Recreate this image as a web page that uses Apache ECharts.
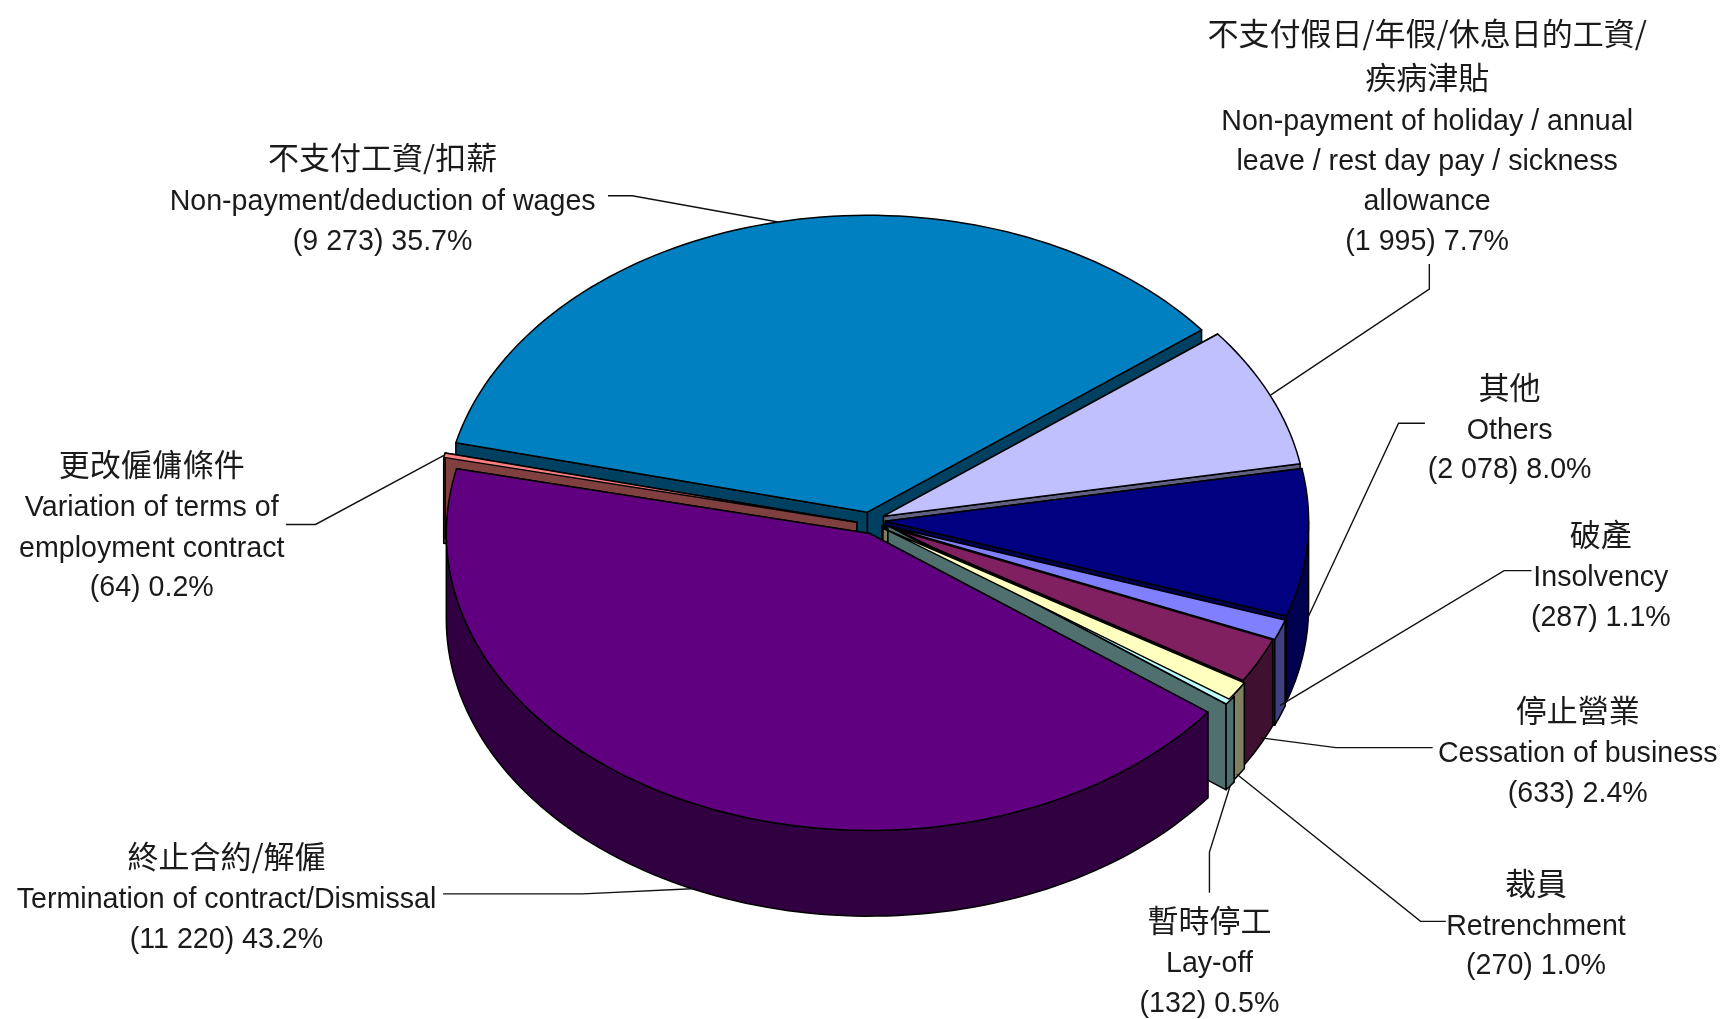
<!DOCTYPE html>
<html><head><meta charset="utf-8">
<style>html,body{margin:0;padding:0;background:#fff}#c{width:1724px;height:1019px}</style>
<script src="https://cdn.jsdelivr.net/npm/echarts@6/dist/echarts.min.js"></script>
</head><body><div id="c"></div>
<script>
// ---- data, in clockwise order from the left of the pie ----
const namesZh = ['不支付工資/扣薪','不支付假日/年假/休息日的工資/|疾病津貼','其他','破產','停止營業','裁員','暫時停工','終止合約/解僱','更改僱傭條件'];
const namesEn = ['Non-payment/deduction of wages','Non-payment of holiday / annual|leave / rest day pay / sickness|allowance','Others','Insolvency','Cessation of business','Retrenchment','Lay-off','Termination of contract/Dismissal','Variation of terms of|employment contract'];
const values = [9273,1995,2078,287,633,270,132,11220,64];
const percents = ['35.7','7.7','8.0','1.1','2.4','1.0','0.5','43.2','0.2'];

// ---- styling / layout (reference is measured in shrunk px, U converts) ----
const U = 1724/1568;
const topColors = ['#0080C0','#C0C0FF','#000080','#8080FF','#802060','#FFFFC0','#C0FFFF','#600080','#FF8080'];
const sideColors = ['#004060','#606080','#000050','#404080','#401030','#808060','#507070','#300040','#804040'];
// painter's order; 'top' entries repaint only a slice's top face
const drawOrder = [[0],[8],[1],[2],[3],[4],[5],[6],[5,'top'],[7]];
const CX=788*U, CY=476*U, RX=385*U, RY=270*U, DEPTH=78*U, EXPLODE=0.05, START=-76.5;
// small per-slice placement corrections of the exploded position
const nudge = [[5,3],[-2,-1],[-2,-3],[-2,-3],[-3,-4],[-1,-3],[4,-6],[11,-3],[10,2]];
// label centre x, line ys
const labelPos = [
 {x:348,ys:[143,184,220]},
 {x:1298,ys:[30,70,111,147,184,220]},
 {x:1373,ys:[352,392,428]},
 {x:1456,ys:[486,526,562]},
 {x:1435,ys:[646,686,722]},
 {x:1397,ys:[803,843,879]},
 {x:1100,ys:[837,877,913]},
 {x:206,ys:[779,819,855]},
 {x:138,ys:[422,462,499,535]}
];
// leader: elbow points (from the label) and how far down the rim the line lands
const leaders = [
 {pts:[[553,178],[575,178]],z:0},
 {pts:[[1300,240],[1300,263]],z:0},
 {pts:[[1296,385],[1272,385]],z:.88},
 {pts:[[1393,519],[1368,519]],z:.88},
 {pts:[[1303,680],[1215,680]],z:.9},
 {pts:[[1315,838],[1292,838]],z:.97},
 {pts:[[1100,812],[1100,775]],z:1},
 {pts:[[403,813],[530,813]],z:1},
 {pts:[[260,477],[287,477]],z:0}
];
const total = values.reduce((a,b)=>a+b,0);
const rad = d=>d*Math.PI/180;
let acc = START;
const slices = values.map((v,i)=>{
  const a0=acc, a1=acc+v/total*360; acc=a1;
  const mid=(a0+a1)/2;
  return {a0,a1,mid,
    ox:EXPLODE*RX*Math.sin(rad(mid))+nudge[i][0]*U, oy:-EXPLODE*RY*Math.cos(rad(mid))+nudge[i][1]*U};
});
function rimPt(s,a,z){
  return [CX+s.ox+RX*Math.sin(rad(a)), CY+s.oy-RY*Math.cos(rad(a))+(z||0)*DEPTH];
}
function arc(s,a0,a1,z){
  const n=Math.max(2,Math.ceil(Math.abs(a1-a0)/1.5)), out=[];
  for(let i=0;i<=n;i++) out.push(rimPt(s,a0+(a1-a0)*i/n,z));
  return out;
}
const LW=1.5;
function poly(points,fill){
  return {type:'polygon',silent:true,shape:{points},style:{fill,stroke:'#000',lineWidth:LW,lineJoin:'round'}};
}
function renderSlice(params){
  const entry=drawOrder[params.dataIndex], i=entry[0], s=slices[i];
  const apex=[CX+s.ox,CY+s.oy], apexB=[apex[0],apex[1]+DEPTH];
  const p0=rimPt(s,s.a0), p1=rimPt(s,s.a1), p0b=rimPt(s,s.a0,1), p1b=rimPt(s,s.a1,1);
  const kids=[];
  if(entry[1]!=='top'){
    kids.push(poly([apex,p0,p0b,apexB],sideColors[i]),poly([apex,p1,p1b,apexB],sideColors[i]));
    // outer rim: only the part facing the viewer
    const f0=Math.max(s.a0,90), f1=Math.min(s.a1,270);
    if(f1>f0) kids.push(poly(arc(s,f0,f1,0).concat(arc(s,f1,f0,1)),sideColors[i]));
  }
  kids.push(poly([apex].concat(arc(s,s.a0,s.a1,0)),topColors[i]));
  return {type:'group',children:kids};
}
const ZH='"Noto Sans CJK TC"', EN='"Liberation Sans"';
function fmt(v){return String(v).replace(/\B(?=(\d{3})+$)/g,' ');}
function renderLabel(params){
  const i=params.dataIndex, s=slices[i], pos=labelPos[i], l=leaders[i];
  const lines=[];
  namesZh[i].split('|').forEach(t=>lines.push({t,zh:true}));
  namesEn[i].split('|').forEach(t=>lines.push({t}));
  lines.push({t:'('+fmt(values[i])+') '+percents[i]+'%'});
  const kids=lines.map((ln,k)=>({type:'text',silent:true,x:pos.x*U,y:pos.ys[k]*U,
    style:{text:ln.t,fill:'#1a1a1a',textAlign:'center',textVerticalAlign:'middle',
      font:ln.zh?'400 31px '+ZH:'400 28.6px '+EN}}));
  const pts=l.pts.map(p=>[p[0]*U,p[1]*U]).concat([rimPt(s,s.mid,l.z)]);
  kids.push({type:'polyline',silent:true,shape:{points:pts},style:{fill:'none',stroke:'#111',lineWidth:1.4}});
  return {type:'group',children:kids};
}
const chart=echarts.init(document.getElementById('c'),null,{renderer:'canvas'});
chart.setOption({
  animation:false,backgroundColor:'#fff',
  series:[
    {type:'custom',coordinateSystem:'none',data:drawOrder.map(e=>values[e[0]]),renderItem:renderSlice,z:1},
    {type:'custom',coordinateSystem:'none',data:values,renderItem:renderLabel,z:2}
  ]
});
</script></body></html>
